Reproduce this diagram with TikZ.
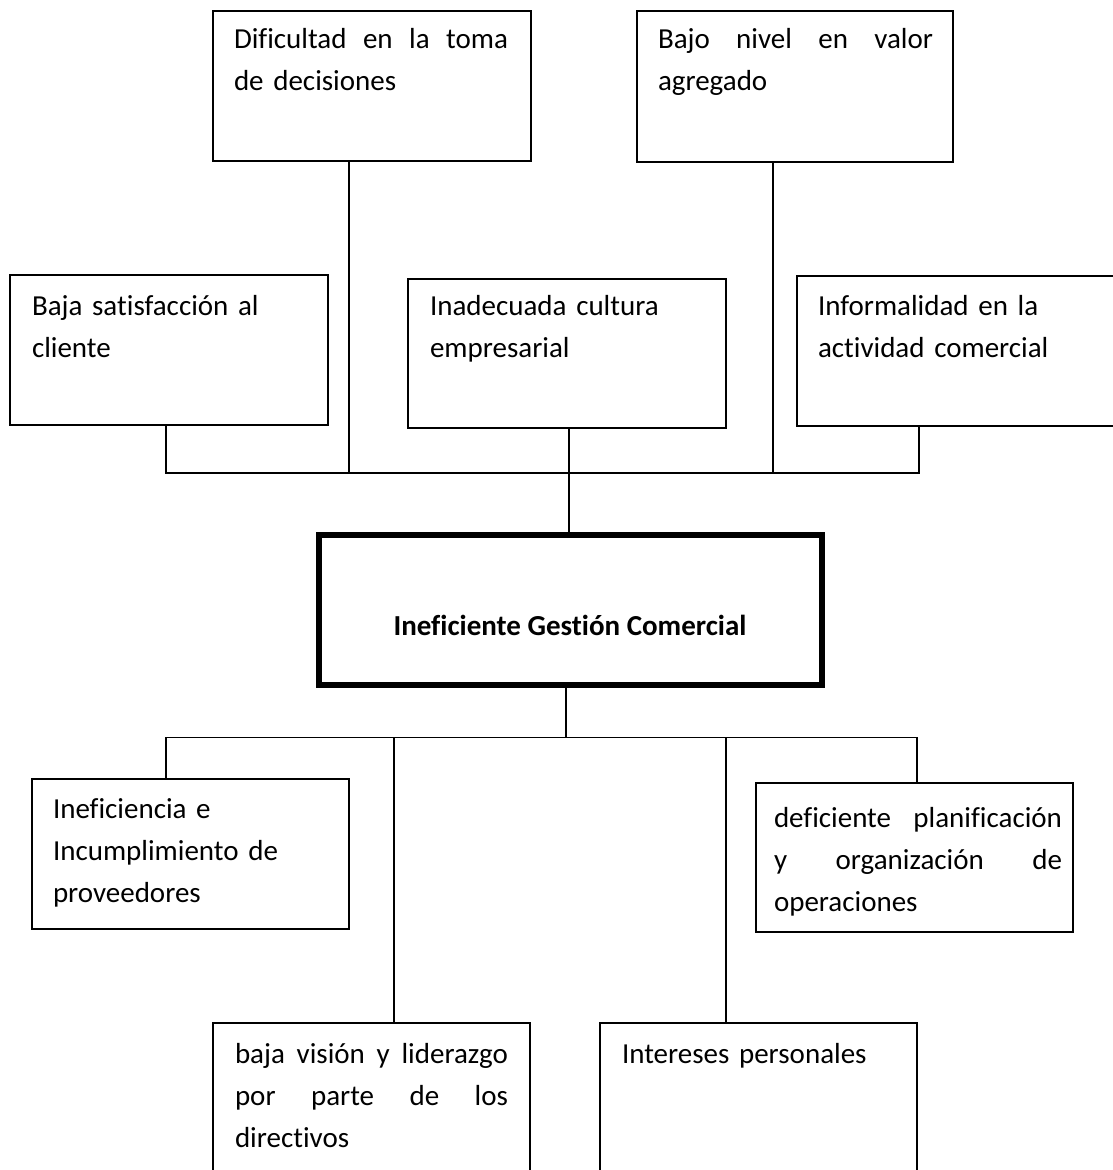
\documentclass[tikz,border=0pt]{standalone}
\usepackage{fontspec}
\setmainfont{Carlito}[Ligatures={NoCommon,NoContextual}]
% a line spread to the full text width, its words separated by equal gaps
\newcommand{\fullline}[2]{\leavevmode\hbox to #1{#2}}
\begin{document}
\begin{tikzpicture}[x=1pt,y=-1pt,
  box/.style={draw, rectangle, line width=1.8pt, inner sep=0pt, outer sep=0pt},
  mainbox/.style={draw, rectangle, line width=6.5pt, inner sep=0pt, outer sep=0pt},
  txt/.style={anchor=base west, inner sep=0pt, outer sep=0pt, align=left,
              font=\fontsize{29}{42}\selectfont},
  link/.style={line width=1.8pt}]
\useasboundingbox (0,0) rectangle (1113,1170);

% effects (top)
\node[box, minimum width=318pt, minimum height=150pt] (dif)  at (372,86)    {};
\node[box, minimum width=316pt, minimum height=151pt] (bajo) at (795,86.5)  {};
\node[box, minimum width=318pt, minimum height=150pt] (sat)  at (169,350)   {};
\node[box, minimum width=318pt, minimum height=149pt] (cult) at (567,353.5) {};
\node[box, minimum width=318pt, minimum height=150pt] (inf)  at (956,351)   {};

% central problem
\node[mainbox, minimum width=503pt, minimum height=150pt] (main) at (570.5,610) {};

% causes (bottom)
\node[box, minimum width=317pt, minimum height=150pt] (prov) at (190.5,854)  {};
\node[box, minimum width=317pt, minimum height=149pt] (plan) at (914.5,857.5) {};
\node[box, minimum width=317pt, minimum height=160pt] (lid)  at (371.5,1103) {};
\node[box, minimum width=317pt, minimum height=160pt] (int)  at (758.5,1103) {};

% texts
\node[txt, text width=274pt] (difT) at (234,48)
  {\fullline{274pt}{Dificultad\hfill en\hfill la\hfill toma}\\de decisiones};
\node[txt, text width=275pt] (bajoT) at (658,48)
  {\fullline{275pt}{Bajo\hfill nivel\hfill en\hfill valor}\\agregado};
\node[txt, text width=290pt] (satT) at (32,315)
  {Baja satisfacción al\\cliente};
\node[txt, text width=290pt] (cultT) at (430,315)
  {Inadecuada cultura\\empresarial};
\node[txt, text width=290pt] (infT) at (818,315)
  {Informalidad en la\\actividad comercial};
\node[anchor=base, inner sep=0pt, font=\fontsize{29}{42}\selectfont\bfseries] (mainT) at (570,635)
  {Ineficiente Gestión Comercial};
\node[txt, text width=290pt] (provT) at (53,818)
  {Ineficiencia e\\Incumplimiento de\\proveedores};
\node[txt, text width=288pt] (planT) at (774,827)
  {\fullline{288pt}{deficiente\hfill planificación}\\
   \fullline{288pt}{y\hfill organización\hfill de}\\operaciones};
\node[txt, text width=273pt] (lidT) at (235,1063)
  {\fullline{273pt}{baja\hfill visión\hfill y\hfill liderazgo}\\
   \fullline{273pt}{por\hfill parte\hfill de\hfill los}\\directivos};
\node[txt, text width=290pt] (intT) at (622,1063)
  {Intereses personales};

% junctions on the upper bus
\coordinate (tb1) at (166,473);
\coordinate (tb2) at (349,473);
\coordinate (tb3) at (569,473);
\coordinate (tb4) at (773,473);
\coordinate (tb5) at (919,473);
% junctions on the lower bus
\coordinate (bb1) at (166,737.5);
\coordinate (bb2) at (394,737.5);
\coordinate (bb3) at (566,737.5);
\coordinate (bb4) at (726,737.5);
\coordinate (bb5) at (917,737.5);

% upper connectors
\draw[link] (sat.south -| tb1) -- (tb1) -- (tb5) -- (inf.south -| tb5);
\draw[link] (dif.south -| tb2) -- (tb2);
\draw[link] (cult.south -| tb3) -- (tb3) -- (main.north -| tb3);
\draw[link] (bajo.south -| tb4) -- (tb4);

% lower connectors
\draw[link] (main.south -| bb3) -- (bb3);
\draw[link] (prov.north -| bb1) -- (bb1) -- (bb5) -- (plan.north -| bb5);
\draw[link] (bb2) -- (lid.north -| bb2);
\draw[link] (bb4) -- (int.north -| bb4);
\end{tikzpicture}
\end{document}
